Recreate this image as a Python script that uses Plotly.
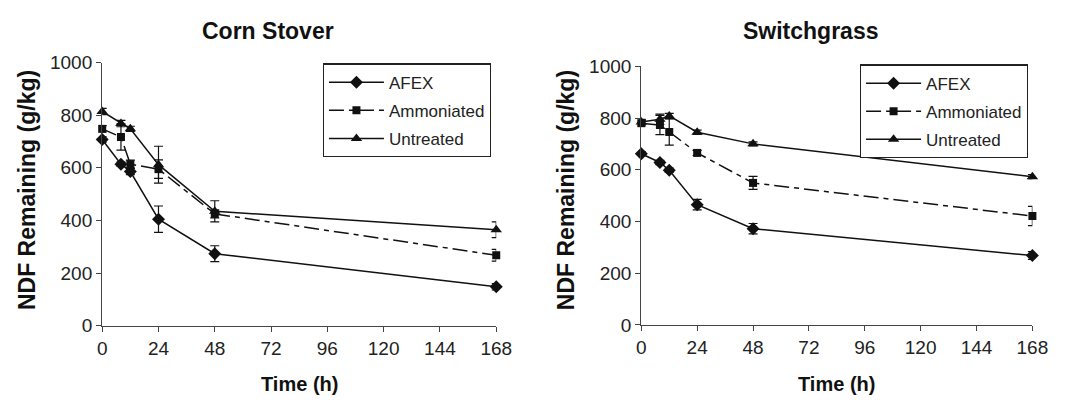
import plotly.graph_objects as go

hours = [0, 8, 12, 24, 48, 168]

# Corn Stover
afex_cs = [708, 614, 586, 405, 274, 148]
afex_cs_err = [10, 8, 12, 50, 30, 12]
amm_cs = [748, 717, 614, 595, 425, 268]
amm_cs_err = [12, 50, 15, 35, 15, 22]
unt_cs = [814, 768, 748, 612, 435, 365]
unt_cs_err = [12, 12, 10, 70, 40, 30]

# Switchgrass
afex_sg = [662, 628, 598, 465, 372, 268]
afex_sg_err = [8, 8, 8, 20, 20, 15]
amm_sg = [780, 773, 746, 665, 549, 421]
amm_sg_err = [10, 37, 51, 10, 25, 37]
unt_sg = [785, 795, 808, 745, 700, 573]
unt_sg_err = [10, 20, 10, 8, 8, 8]

series_names = ["AFEX", "Ammoniated", "Untreated"]
x_ticks = [0, 24, 48, 72, 96, 120, 144, 168]
y_ticks = [0, 200, 400, 600, 800, 1000]

FONT = "Liberation Sans, Arial, sans-serif"
INK = "#111111"
# The page body has an 8px default margin; the figure is sized and laid out
# so that positions land where they are in the 1068x405 window.
OFF = 8
W, H = 1068 - OFF, 405 - OFF

styles = {
    "AFEX": dict(symbol="diamond", size=10, dash="solid"),
    "Ammoniated": dict(symbol="square", size=8, dash="15px,5px,5px,5px"),
    "Untreated": dict(symbol="triangle-up", size=10, dash="solid"),
}

fig = go.Figure()

panels = [
    ("x", "y", "legend", [afex_cs, amm_cs, unt_cs], [afex_cs_err, amm_cs_err, unt_cs_err]),
    ("x2", "y2", "legend2", [afex_sg, amm_sg, unt_sg], [afex_sg_err, amm_sg_err, unt_sg_err]),
]

for xa, ya, leg, vals, errs in panels:
    for name, v, e in zip(series_names, vals, errs):
        st = styles[name]
        fig.add_trace(go.Scatter(
            x=hours, y=v, name=name, mode="lines+markers",
            xaxis=xa, yaxis=ya, legend=leg, legendgroup=leg + name,
            line=dict(color=INK, width=1.5, dash=st["dash"]),
            marker=dict(symbol=st["symbol"], size=st["size"], color=INK),
            error_y=dict(type="data", array=e, visible=True, color=INK,
                         thickness=1.2, width=4.5),
            cliponaxis=False,
        ))

def px_x(p):
    return (p - OFF) / W

def px_y(p):
    return 1 - (p - OFF) / H

axis_common = dict(
    showline=True, linecolor="#444", linewidth=1.3, ticks="outside",
    ticklen=5, tickcolor="#444", tickwidth=1.3, showgrid=False, zeroline=False,
    tickfont=dict(family=FONT, size=19, color="#222"),
)

fig.update_layout(
    width=W, height=H, margin=dict(l=0, r=0, t=0, b=0),
    paper_bgcolor="white", plot_bgcolor="white",
    showlegend=True,
    xaxis=dict(domain=[px_x(99), px_x(501)], range=[0, 168], tickvals=x_ticks,
               anchor="y", **axis_common),
    yaxis=dict(domain=[px_y(333), px_y(55)], range=[0, 1000], tickvals=y_ticks,
               anchor="x", **axis_common),
    xaxis2=dict(domain=[px_x(649), px_x(1048)], range=[0, 168], tickvals=x_ticks,
                anchor="y2", **axis_common),
    yaxis2=dict(domain=[px_y(332), px_y(59)], range=[0, 1000], tickvals=y_ticks,
                anchor="x2", **axis_common),
)

legend_common = dict(
    bgcolor="white", bordercolor="#222", borderwidth=1.2,
    font=dict(family=FONT, size=17, color="#222"),
    itemwidth=55, tracegroupgap=3, traceorder="grouped",
    xanchor="left", yanchor="top", itemclick=False,
)
fig.update_layout(
    legend=dict(x=px_x(324), y=px_y(56), **legend_common),
    legend2=dict(x=px_x(872), y=px_y(57), **legend_common),
)

annots = [
    dict(text="<b>Corn Stover</b>", x=px_x(338), y=px_y(22), xanchor="right", size=23),
    dict(text="<b>Switchgrass</b>", x=px_x(822), y=px_y(22), xanchor="center", size=23),
    dict(text="<b>Time (h)</b>", x=px_x(300), y=px_y(394), xanchor="center", size=20),
    dict(text="<b>Time (h)</b>", x=px_x(848), y=px_y(394), xanchor="center", size=20),
]
for a in annots:
    fig.add_annotation(text=a["text"], x=a["x"], y=a["y"], xref="paper", yref="paper",
                       xanchor=a["xanchor"], yanchor="middle", showarrow=False,
                       font=dict(family=FONT, size=a["size"], color="#111"))
for xc in (23, 573):
    fig.add_annotation(text="<b>NDF Remaining (g/kg)</b>", x=px_x(xc), y=px_y(190),
                       xref="paper", yref="paper", xanchor="center", yanchor="middle",
                       textangle=-90, showarrow=False,
                       font=dict(family=FONT, size=23, color="#111"))

fig.write_html("out.html")
